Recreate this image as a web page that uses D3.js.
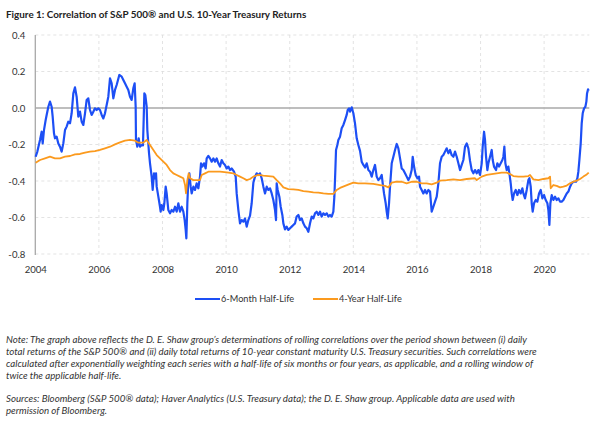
<!DOCTYPE html>
<html><head><meta charset="utf-8">
<script src="https://cdn.jsdelivr.net/npm/d3@7"></script>
<style>body{margin:0;background:#fff}svg{display:block}</style>
</head><body><svg id="c" width="605" height="422"></svg>
<script>
const title = "Figure 1: Correlation of S&P 500® and U.S. 10-Year Treasury Returns";
const seriesNames = ["6-Month Half-Life", "4-Year Half-Life"];
const xTicks = [2004, 2006, 2008, 2010, 2012, 2014, 2016, 2018, 2020];
const yTicks = [0.4, 0.2, 0.0, -0.2, -0.4, -0.6, -0.8];
const yTickLabels = ["0.4", "0.2", "0.0", "-0.2", "-0.4", "-0.6", "-0.8"];

// [decimal year, correlation]
const sixMonth = [
[2004.011,-0.267],[2004.064,-0.239],[2004.148,-0.175],[2004.200,-0.130],[2004.232,-0.194],[2004.273,-0.121],[2004.326,-0.066],[2004.357,-0.038],[2004.410,0.007],[2004.462,0.035],[2004.514,0.007],[2004.546,-0.047],[2004.588,-0.139],[2004.619,-0.166],[2004.672,-0.157],[2004.724,-0.194],[2004.776,-0.212],[2004.829,-0.239],[2004.881,-0.194],[2004.934,-0.121],[2004.986,-0.102],[2005.038,-0.075],[2005.091,-0.084],[2005.143,-0.029],[2005.196,0.080],[2005.248,0.113],[2005.300,0.062],[2005.353,-0.047],[2005.405,-0.020],[2005.458,-0.075],[2005.510,-0.093],[2005.563,-0.029],[2005.615,0.044],[2005.667,0.053],[2005.720,-0.011],[2005.772,-0.038],[2005.825,-0.020],[2005.877,-0.002],[2005.929,-0.011],[2005.982,-0.002],[2006.034,-0.011],[2006.087,-0.038],[2006.139,-0.057],[2006.191,-0.029],[2006.244,0.016],[2006.296,0.062],[2006.349,0.163],[2006.401,0.135],[2006.454,0.053],[2006.506,0.099],[2006.558,0.126],[2006.642,0.181],[2006.716,0.172],[2006.768,0.153],[2006.820,0.135],[2006.873,0.117],[2006.925,0.099],[2006.978,0.062],[2007.030,0.044],[2007.082,0.108],[2007.124,0.135],[2007.156,0.007],[2007.166,-0.175],[2007.208,-0.212],[2007.250,-0.166],[2007.292,-0.212],[2007.345,-0.203],[2007.385,-0.205],[2007.410,-0.050],[2007.429,0.080],[2007.460,0.071],[2007.502,0.007],[2007.523,-0.121],
[2007.576,-0.248],[2007.607,-0.303],[2007.659,-0.376],[2007.691,-0.449],[2007.733,-0.358],[2007.764,-0.385],[2007.796,-0.358],[2007.817,-0.431],[2007.869,-0.486],[2007.921,-0.541],[2007.942,-0.568],[2007.974,-0.532],[2008.026,-0.559],[2008.058,-0.522],[2008.100,-0.431],[2008.131,-0.468],[2008.183,-0.559],[2008.236,-0.577],[2008.288,-0.559],[2008.341,-0.568],[2008.393,-0.541],[2008.446,-0.568],[2008.498,-0.522],[2008.550,-0.568],[2008.603,-0.541],[2008.655,-0.568],[2008.697,-0.614],[2008.729,-0.668],[2008.750,-0.714],[2008.781,-0.522],[2008.812,-0.395],[2008.844,-0.358],[2008.886,-0.431],[2008.917,-0.468],[2008.970,-0.431],[2009.022,-0.449],[2009.074,-0.413],[2009.127,-0.440],[2009.179,-0.376],[2009.211,-0.303],[2009.253,-0.321],[2009.305,-0.303],[2009.357,-0.331],[2009.389,-0.276],[2009.441,-0.263],[2009.494,-0.276],[2009.546,-0.294],[2009.598,-0.276],[2009.651,-0.294],[2009.703,-0.276],[2009.756,-0.303],[2009.808,-0.321],[2009.861,-0.285],[2009.913,-0.303],[2009.965,-0.312],[2010.018,-0.331],[2010.070,-0.321],[2010.123,-0.340],[2010.175,-0.331],[2010.248,-0.349],[2010.301,-0.376],[2010.332,-0.468],[2010.385,-0.559],[2010.437,-0.632],[2010.489,-0.614],[2010.542,-0.623],[2010.594,-0.605],[2010.647,-0.650],[2010.699,-0.614],[2010.752,-0.590],[2010.804,-0.522],[2010.856,-0.410],
[2010.909,-0.376],[2010.961,-0.358],[2011.014,-0.367],[2011.066,-0.358],[2011.118,-0.385],[2011.171,-0.431],[2011.223,-0.468],[2011.276,-0.431],[2011.328,-0.449],[2011.381,-0.440],[2011.433,-0.468],[2011.485,-0.504],[2011.538,-0.559],[2011.569,-0.614],[2011.590,-0.413],[2011.622,-0.449],[2011.674,-0.486],[2011.716,-0.541],[2011.768,-0.586],[2011.800,-0.632],[2011.852,-0.665],[2011.905,-0.650],[2011.957,-0.668],[2012.010,-0.659],[2012.062,-0.650],[2012.114,-0.641],[2012.167,-0.632],[2012.219,-0.595],[2012.272,-0.586],[2012.324,-0.614],[2012.376,-0.605],[2012.429,-0.632],[2012.481,-0.650],[2012.534,-0.659],[2012.586,-0.678],[2012.639,-0.632],[2012.691,-0.595],[2012.743,-0.605],[2012.796,-0.577],[2012.848,-0.568],[2012.901,-0.586],[2012.953,-0.568],[2013.005,-0.595],[2013.058,-0.577],[2013.110,-0.586],[2013.163,-0.577],[2013.215,-0.595],[2013.267,-0.586],[2013.320,-0.595],[2013.372,-0.568],[2013.404,-0.486],[2013.435,-0.340],[2013.456,-0.230],[2013.498,-0.203],[2013.529,-0.175],[2013.582,-0.157],[2013.634,-0.111],[2013.687,-0.093],[2013.739,-0.066],[2013.791,-0.038],[2013.823,-0.011],[2013.865,-0.002],[2013.896,-0.020],[2013.949,0.004],[2014.001,-0.029],[2014.053,-0.084],[2014.106,-0.166],[2014.158,-0.203],[2014.211,-0.235],[2014.263,-0.294],[2014.316,-0.312],[2014.368,-0.326],
[2014.420,-0.303],[2014.473,-0.340],[2014.525,-0.349],[2014.578,-0.376],[2014.630,-0.340],[2014.682,-0.312],[2014.735,-0.376],[2014.787,-0.395],[2014.840,-0.385],[2014.892,-0.367],[2014.924,-0.413],[2014.965,-0.468],[2015.018,-0.522],[2015.049,-0.568],[2015.081,-0.605],[2015.123,-0.522],[2015.154,-0.431],[2015.207,-0.303],[2015.259,-0.267],[2015.311,-0.230],[2015.364,-0.197],[2015.416,-0.221],[2015.469,-0.276],[2015.521,-0.331],[2015.573,-0.340],[2015.626,-0.358],[2015.678,-0.376],[2015.731,-0.395],[2015.783,-0.376],[2015.835,-0.340],[2015.867,-0.267],[2015.909,-0.321],[2015.961,-0.367],[2016.014,-0.385],[2016.066,-0.376],[2016.097,-0.431],[2016.150,-0.449],[2016.202,-0.468],[2016.255,-0.449],[2016.307,-0.468],[2016.360,-0.449],[2016.412,-0.458],[2016.464,-0.568],[2016.517,-0.541],[2016.569,-0.513],[2016.622,-0.486],[2016.674,-0.413],[2016.726,-0.303],[2016.779,-0.267],[2016.831,-0.258],[2016.884,-0.239],[2016.936,-0.221],[2016.988,-0.248],[2017.041,-0.230],[2017.093,-0.258],[2017.146,-0.267],[2017.198,-0.239],[2017.251,-0.267],[2017.303,-0.303],[2017.355,-0.340],[2017.408,-0.312],[2017.460,-0.285],[2017.513,-0.212],[2017.565,-0.194],[2017.617,-0.221],[2017.670,-0.290],[2017.722,-0.340],[2017.775,-0.358],[2017.827,-0.340],
[2017.880,-0.358],[2017.932,-0.340],[2017.984,-0.367],[2018.037,-0.303],[2018.068,-0.212],[2018.110,-0.130],[2018.141,-0.175],[2018.173,-0.267],[2018.215,-0.340],[2018.246,-0.303],[2018.299,-0.267],[2018.351,-0.230],[2018.383,-0.285],[2018.424,-0.321],[2018.487,-0.340],[2018.529,-0.303],[2018.582,-0.321],[2018.634,-0.303],[2018.687,-0.285],[2018.718,-0.267],[2018.749,-0.212],[2018.781,-0.303],[2018.823,-0.340],[2018.875,-0.321],[2018.907,-0.358],[2018.949,-0.413],[2018.980,-0.468],[2019.011,-0.504],[2019.053,-0.468],[2019.106,-0.449],[2019.158,-0.477],[2019.211,-0.449],[2019.263,-0.468],[2019.315,-0.440],[2019.347,-0.468],[2019.399,-0.495],[2019.452,-0.449],[2019.504,-0.395],[2019.536,-0.385],[2019.578,-0.431],[2019.609,-0.522],[2019.640,-0.568],[2019.682,-0.522],[2019.735,-0.504],[2019.787,-0.513],[2019.840,-0.468],[2019.892,-0.449],[2019.944,-0.495],[2019.997,-0.477],[2020.049,-0.504],[2020.102,-0.522],[2020.133,-0.559],[2020.165,-0.641],[2020.196,-0.522],[2020.238,-0.477],[2020.290,-0.504],[2020.343,-0.486],[2020.395,-0.504],[2020.448,-0.495],[2020.500,-0.513],[2020.552,-0.513],[2020.605,-0.504],[2020.657,-0.486],[2020.710,-0.468],[2020.762,-0.458],[2020.816,-0.431],[2020.867,-0.413],[2020.919,-0.404],[2021.003,-0.404],[2021.045,-0.385],[2021.076,-0.349],[2021.108,-0.285],[2021.150,-0.194],[2021.181,-0.084],[2021.213,-0.029],[2021.255,-0.002],[2021.297,0.007],[2021.328,0.035],[2021.349,0.080],[2021.381,0.102],[2021.402,0.095]
];

const fourYear = [
[2004.011,-0.300],[2004.148,-0.285],[2004.305,-0.276],[2004.462,-0.267],[2004.619,-0.276],[2004.776,-0.276],[2004.934,-0.267],[2005.091,-0.263],[2005.248,-0.254],[2005.405,-0.252],[2005.563,-0.245],[2005.720,-0.239],[2005.877,-0.236],[2006.034,-0.230],[2006.191,-0.221],[2006.349,-0.212],[2006.506,-0.199],[2006.663,-0.188],[2006.820,-0.179],[2006.978,-0.175],[2007.135,-0.179],[2007.240,-0.190],[2007.345,-0.190],[2007.397,-0.190],[2007.502,-0.175],[2007.607,-0.203],[2007.712,-0.230],[2007.817,-0.258],[2007.921,-0.276],[2008.026,-0.294],[2008.131,-0.312],[2008.236,-0.340],[2008.341,-0.358],[2008.446,-0.367],[2008.550,-0.376],[2008.655,-0.385],[2008.708,-0.422],[2008.739,-0.468],[2008.781,-0.395],[2008.823,-0.358],[2008.865,-0.385],[2008.970,-0.395],[2009.074,-0.395],[2009.179,-0.395],[2009.232,-0.367],[2009.337,-0.358],[2009.441,-0.349],[2009.598,-0.349],[2009.808,-0.349],[2010.018,-0.353],[2010.228,-0.358],[2010.332,-0.367],[2010.437,-0.376],[2010.542,-0.385],[2010.647,-0.395],[2010.752,-0.389],[2010.856,-0.376],[2011.014,-0.367],[2011.171,-0.371],[2011.328,-0.373],[2011.485,-0.376],[2011.590,-0.395],[2011.695,-0.413],[2011.800,-0.435],[2011.957,-0.444],[2012.114,-0.446],[2012.272,-0.449],[2012.429,-0.455],[2012.586,-0.458],[2012.743,-0.462],[2012.901,-0.464],[2013.058,-0.468],[2013.215,-0.471],[2013.372,-0.471],[2013.477,-0.449],[2013.582,-0.438],[2013.739,-0.427],[2013.896,-0.416],[2014.001,-0.409],[2014.158,-0.413],[2014.368,-0.413],[2014.630,-0.416],[2014.840,-0.422],[2014.997,-0.427],[2015.102,-0.435],[2015.207,-0.409],[2015.364,-0.404],[2015.521,-0.404],[2015.678,-0.413],[2015.835,-0.404],[2015.993,-0.404],[2016.150,-0.413],[2016.307,-0.413],[2016.464,-0.418],[2016.622,-0.409],[2016.726,-0.398],[2016.936,-0.395],[2017.146,-0.391],[2017.355,-0.395],[2017.565,-0.389],[2017.827,-0.385],[2017.880,-0.395],[2018.037,-0.376],[2018.194,-0.367],[2018.351,-0.362],[2018.508,-0.358],[2018.666,-0.354],[2018.823,-0.354],[2018.928,-0.362],[2019.032,-0.373],[2019.190,-0.376],[2019.347,-0.376],[2019.504,-0.373],[2019.557,-0.367],[2019.661,-0.391],[2019.819,-0.395],[2019.976,-0.389],[2020.133,-0.385],[2020.186,-0.376],[2020.207,-0.440],[2020.290,-0.422],[2020.395,-0.427],[2020.500,-0.435],[2020.605,-0.431],[2020.710,-0.425],[2020.814,-0.413],[2020.919,-0.404],[2021.024,-0.398],[2021.129,-0.389],[2021.234,-0.376],[2021.339,-0.364],[2021.402,-0.354]
];

const noteLines = [
"Note: The graph above reflects the D. E. Shaw group’s determinations of rolling correlations over the period shown between (i) daily",
"total returns of the S&P 500® and (ii) daily total returns of 10-year constant maturity U.S. Treasury securities. Such correlations were",
"calculated after exponentially weighting each series with a half-life of six months or four years, as applicable, and a rolling window of",
"twice the applicable half-life."
];
const sourceLines = [
"Sources: Bloomberg (S&P 500® data); Haver Analytics (U.S. Treasury data); the D. E. Shaw group. Applicable data are used with",
"permission of Bloomberg."
];
const colors = ["#1d4ff5", "#fb9a1e"];

const svg = d3.select("#c");
const FONT = "Lato, 'Noto Sans', sans-serif";
const x = d3.scaleLinear().domain([2004, 2021.42]).range([35.3, 589.3]);
const y = d3.scaleLinear().domain([-0.8, 0.4]).range([254, 35]);

svg.append("text").attr("x", 6).attr("y", 18).text(title)
  .attr("font-family", FONT).attr("font-size", 9.9).attr("font-weight", 700).attr("fill", "#222");

// grid
const g = svg.append("g");
g.selectAll(".hg").data(yTicks.filter(v => v !== 0)).join("line")
  .attr("x1", x(2004)).attr("x2", x.range()[1]).attr("y1", d => y(d)).attr("y2", d => y(d))
  .attr("stroke", "#dcdcdc").attr("stroke-width", 0.8).attr("stroke-dasharray", "3,3");
g.selectAll(".vg").data(xTicks.slice(1)).join("line")
  .attr("x1", d => x(d)).attr("x2", d => x(d)).attr("y1", y(0.4)).attr("y2", y(-0.8))
  .attr("stroke", "#dcdcdc").attr("stroke-width", 0.8).attr("stroke-dasharray", "3,3");
// zero line
g.append("line").attr("x1", x(2004)).attr("x2", x.range()[1]).attr("y1", y(0)).attr("y2", y(0))
  .attr("stroke", "#a8a8a8").attr("stroke-width", 1.3);
// y axis line
g.append("line").attr("x1", x(2004)).attr("x2", x(2004)).attr("y1", y(0.4)).attr("y2", y(-0.8) + 1)
  .attr("stroke", "#a8a8a8").attr("stroke-width", 1.3);

// tick labels via axes
const yAxis = d3.axisLeft(y).tickValues(yTicks).tickSize(0).tickPadding(10)
  .tickFormat((d, i) => yTickLabels[i]);
svg.append("g").attr("transform", `translate(${x(2004)},0)`).call(yAxis)
  .call(a => a.select(".domain").remove())
  .selectAll("text").attr("font-family", FONT).attr("font-size", 9.6).attr("fill", "#333");
const xAxis = d3.axisBottom(x).tickValues(xTicks).tickSize(0).tickPadding(12)
  .tickFormat(d3.format("d"));
svg.append("g").attr("transform", `translate(0,${y(-0.8)})`).call(xAxis)
  .call(a => a.select(".domain").remove())
  .selectAll("text").attr("font-family", FONT).attr("font-size", 9.6).attr("fill", "#333");

const line = d3.line().x(d => x(d[0])).y(d => y(d[1])).curve(d3.curveLinear);
svg.append("path").datum(sixMonth).attr("d", line).attr("fill", "none")
  .attr("stroke", colors[0]).attr("stroke-width", 2.2).attr("stroke-linejoin", "round");
svg.append("path").datum(fourYear).attr("d", line).attr("fill", "none")
  .attr("stroke", colors[1]).attr("stroke-width", 1.8).attr("stroke-linejoin", "round");

// legend
const legY = 299;
const leg = svg.append("g");
const legX = [195, 313];
seriesNames.forEach((n, i) => {
  leg.append("line").attr("x1", legX[i]).attr("x2", legX[i] + 25).attr("y1", legY).attr("y2", legY)
    .attr("stroke", colors[i]).attr("stroke-width", 2);
  leg.append("text").attr("x", legX[i] + 26).attr("y", legY + 3.2).text(n)
    .attr("font-family", FONT).attr("font-size", 9.2).attr("fill", "#333");
});

// notes
const nt = svg.append("g").attr("font-family", FONT).attr("font-size", 9.7)
  .attr("font-style", "italic").attr("fill", "#333");
noteLines.forEach((t, i) => nt.append("text").attr("x", 6).attr("y", 343 + i * 12).text(t));
sourceLines.forEach((t, i) => nt.append("text").attr("x", 6).attr("y", 402 + i * 12).text(t));
</script></body></html>
